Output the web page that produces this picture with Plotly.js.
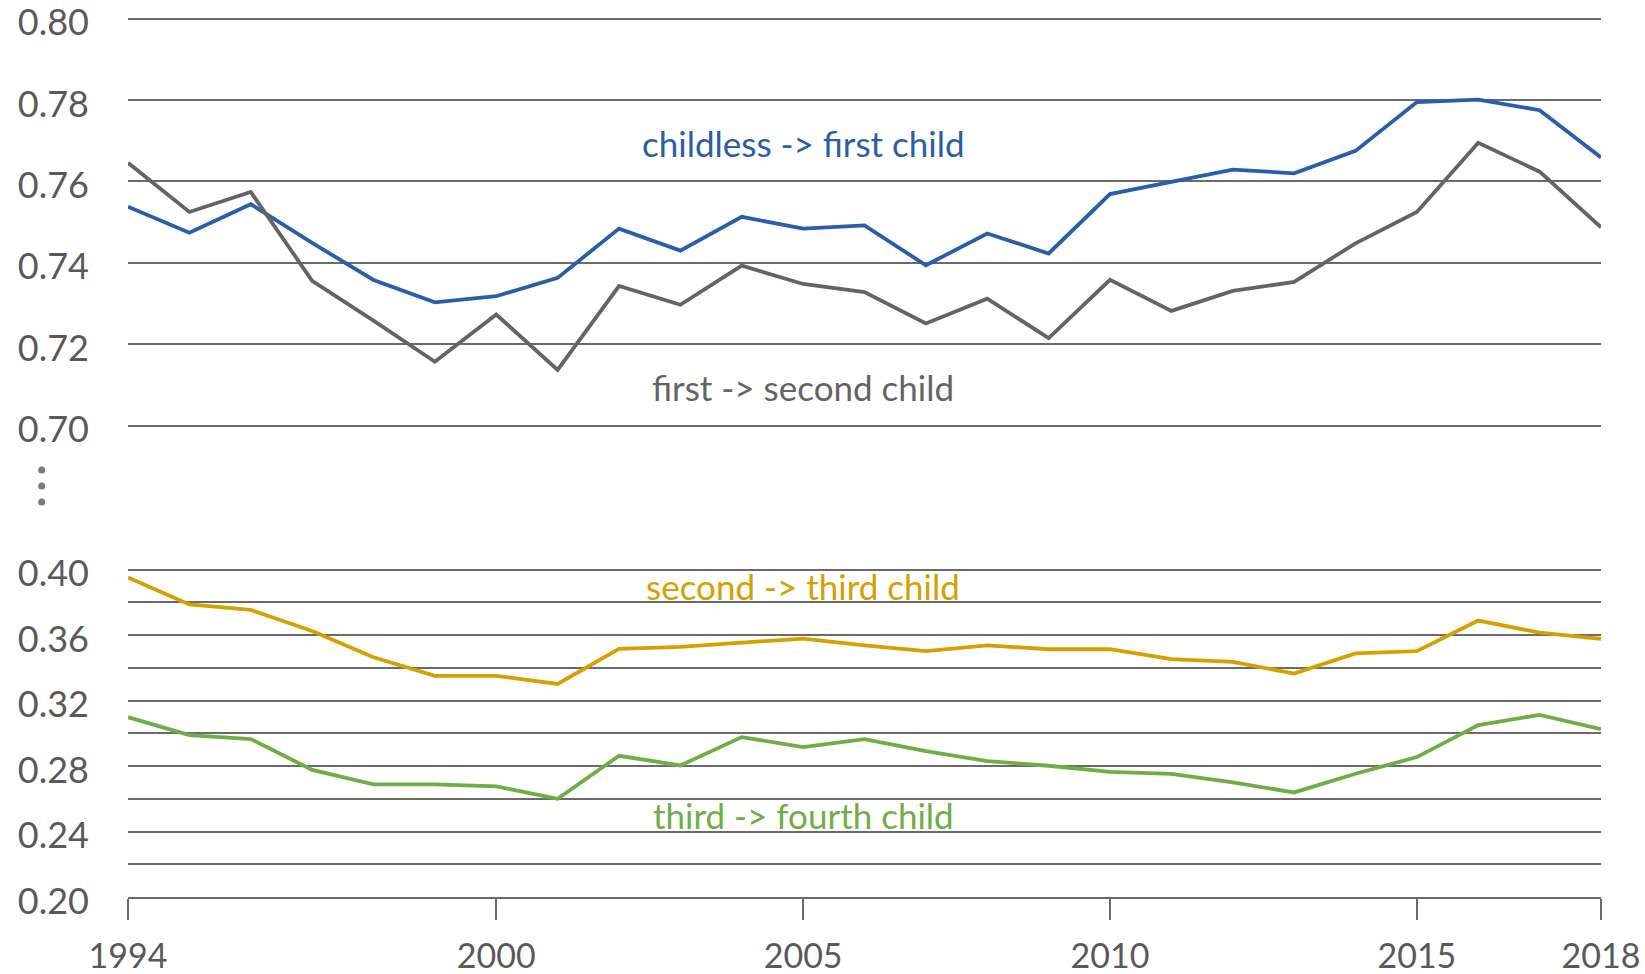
<!DOCTYPE html>
<html>
<head>
<meta charset="utf-8">
<script src="https://cdn.plot.ly/plotly-3.0.1.min.js"></script>
<style>html,body{margin:0;padding:0;background:#fff;}#chart{width:1645px;height:974px;}</style>
</head>
<body>
<div id="chart"></div>
<script>
const years = [1994,1995,1996,1997,1998,1999,2000,2001,2002,2003,2004,2005,2006,2007,2008,2009,2010,2011,2012,2013,2014,2015,2016,2017,2018];
const childlessToFirst = [0.7538,0.7474,0.7544,0.7449,0.7358,0.7303,0.7318,0.7363,0.7484,0.7430,0.7513,0.7484,0.7492,0.7394,0.7472,0.7423,0.7569,0.7599,0.7629,0.7620,0.7675,0.7795,0.7801,0.7775,0.7659];
const firstToSecond = [0.7646,0.7525,0.7574,0.7356,0.7258,0.7157,0.7273,0.7137,0.7343,0.7297,0.7393,0.7348,0.7328,0.7251,0.7312,0.7215,0.7358,0.7282,0.7331,0.7353,0.7448,0.7525,0.7695,0.7624,0.7487];
const secondToThird = [0.3953,0.3788,0.3754,0.3626,0.3465,0.3351,0.3351,0.3302,0.3516,0.3528,0.3554,0.3579,0.3538,0.3502,0.3538,0.3514,0.3514,0.3453,0.3437,0.3365,0.3489,0.3502,0.3689,0.3615,0.3577];
const thirdToFourth = [0.3099,0.2989,0.2965,0.2777,0.2688,0.2688,0.2676,0.2600,0.2863,0.2804,0.2977,0.2916,0.2965,0.2891,0.2830,0.2802,0.2765,0.2753,0.2700,0.2639,0.2753,0.2855,0.3050,0.3113,0.3026];
const xTickVals = [1994,2000,2005,2010,2015,2018];
const xTickText = ['1994','2000','2005','2010','2015','2018'];
const seriesNames = ['childless -> first child','first -> second child','second -> third child','third -> fourth child'];

const BLUE = '#2B5DAB', GRAY = '#646464', GOLD = '#D5A000', GREEN = '#70AD47';
const GRID = '#6a6a6a', TXT = '#595959';
const FONT = 'Lato, "Open Sans", sans-serif';
const LW = 3.8;

const traces = [
  {x: years, y: childlessToFirst, yaxis: 'y2', name: seriesNames[0], mode: 'lines', line: {color: BLUE, width: LW}},
  {x: years, y: firstToSecond, yaxis: 'y2', name: seriesNames[1], mode: 'lines', line: {color: GRAY, width: LW}},
  {x: years, y: secondToThird, yaxis: 'y', name: seriesNames[2], mode: 'lines', line: {color: GOLD, width: LW}},
  {x: years, y: thirdToFourth, yaxis: 'y', name: seriesNames[3], mode: 'lines', line: {color: GREEN, width: LW}}
];

function dot(py) {
  return {type: 'circle', xref: 'paper', yref: 'paper', xsizemode: 'pixel', ysizemode: 'pixel',
    xanchor: (41.7 - 128) / 1473, yanchor: (897 - py) / 880, x0: -3.5, x1: 3.5, y0: -3.5, y1: 3.5,
    fillcolor: '#7a7a7a', line: {width: 0}};
}

const layout = {
  width: 1645, height: 974,
  margin: {l: 128, r: 44, t: 17, b: 77},
  paper_bgcolor: '#fff', plot_bgcolor: '#fff',
  showlegend: false,
  font: {family: FONT, color: TXT, size: 36},
  xaxis: {
    range: [1994, 2018], tickvals: xTickVals, ticktext: xTickText,
    showgrid: false, zeroline: false, showline: true, linecolor: GRID, linewidth: 2,
    ticks: 'outside', ticklen: 21, tickwidth: 2, tickcolor: GRID, ticklabelstandoff: 7,
    ticklabeloverflow: 'allow',
    tickfont: {family: FONT, size: 34, color: TXT}, anchor: 'y'
  },
  yaxis: {
    domain: [0, 0.3736], range: [0.2, 0.4009], tick0: 0.2, dtick: 0.04,
    tickformat: '.2f', showgrid: true, gridcolor: GRID, gridwidth: 2,
    minor: {dtick: 0.02, tick0: 0.2, showgrid: true, gridcolor: GRID, gridwidth: 2},
    zeroline: false, showline: false, ticks: '', ticklabelstandoff: 38, ticklabeloverflow: 'allow',
    ticklabelshift: 4,
    tickfont: {family: FONT, size: 36, color: TXT}, anchor: 'x'
  },
  yaxis2: {
    domain: [0.5338, 1], range: [0.6996, 0.8004], tick0: 0.7, dtick: 0.02,
    tickformat: '.2f', showgrid: true, gridcolor: GRID, gridwidth: 2,
    zeroline: false, showline: false, ticks: '', ticklabelstandoff: 38, ticklabeloverflow: 'allow',
    ticklabelshift: 4,
    tickfont: {family: FONT, size: 36, color: TXT}, anchor: 'x'
  },
  annotations: [
    {x: 2005, y: 0.7694, xref: 'x', yref: 'y2', text: seriesNames[0], showarrow: false, font: {family: FONT, size: 35, color: BLUE}},
    {x: 2005, y: 0.7094, xref: 'x', yref: 'y2', text: seriesNames[1], showarrow: false, font: {family: FONT, size: 35, color: GRAY}},
    {x: 2005, y: 0.3903, xref: 'x', yref: 'y', text: seriesNames[2], showarrow: false, font: {family: FONT, size: 35, color: GOLD}},
    {x: 2005, y: 0.2503, xref: 'x', yref: 'y', text: seriesNames[3], showarrow: false, font: {family: FONT, size: 35, color: GREEN}}
  ],
  shapes: [dot(470), dot(486), dot(502)]
};

Plotly.newPlot('chart', traces, layout, {displayModeBar: false, staticPlot: true});
</script>
</body>
</html>
